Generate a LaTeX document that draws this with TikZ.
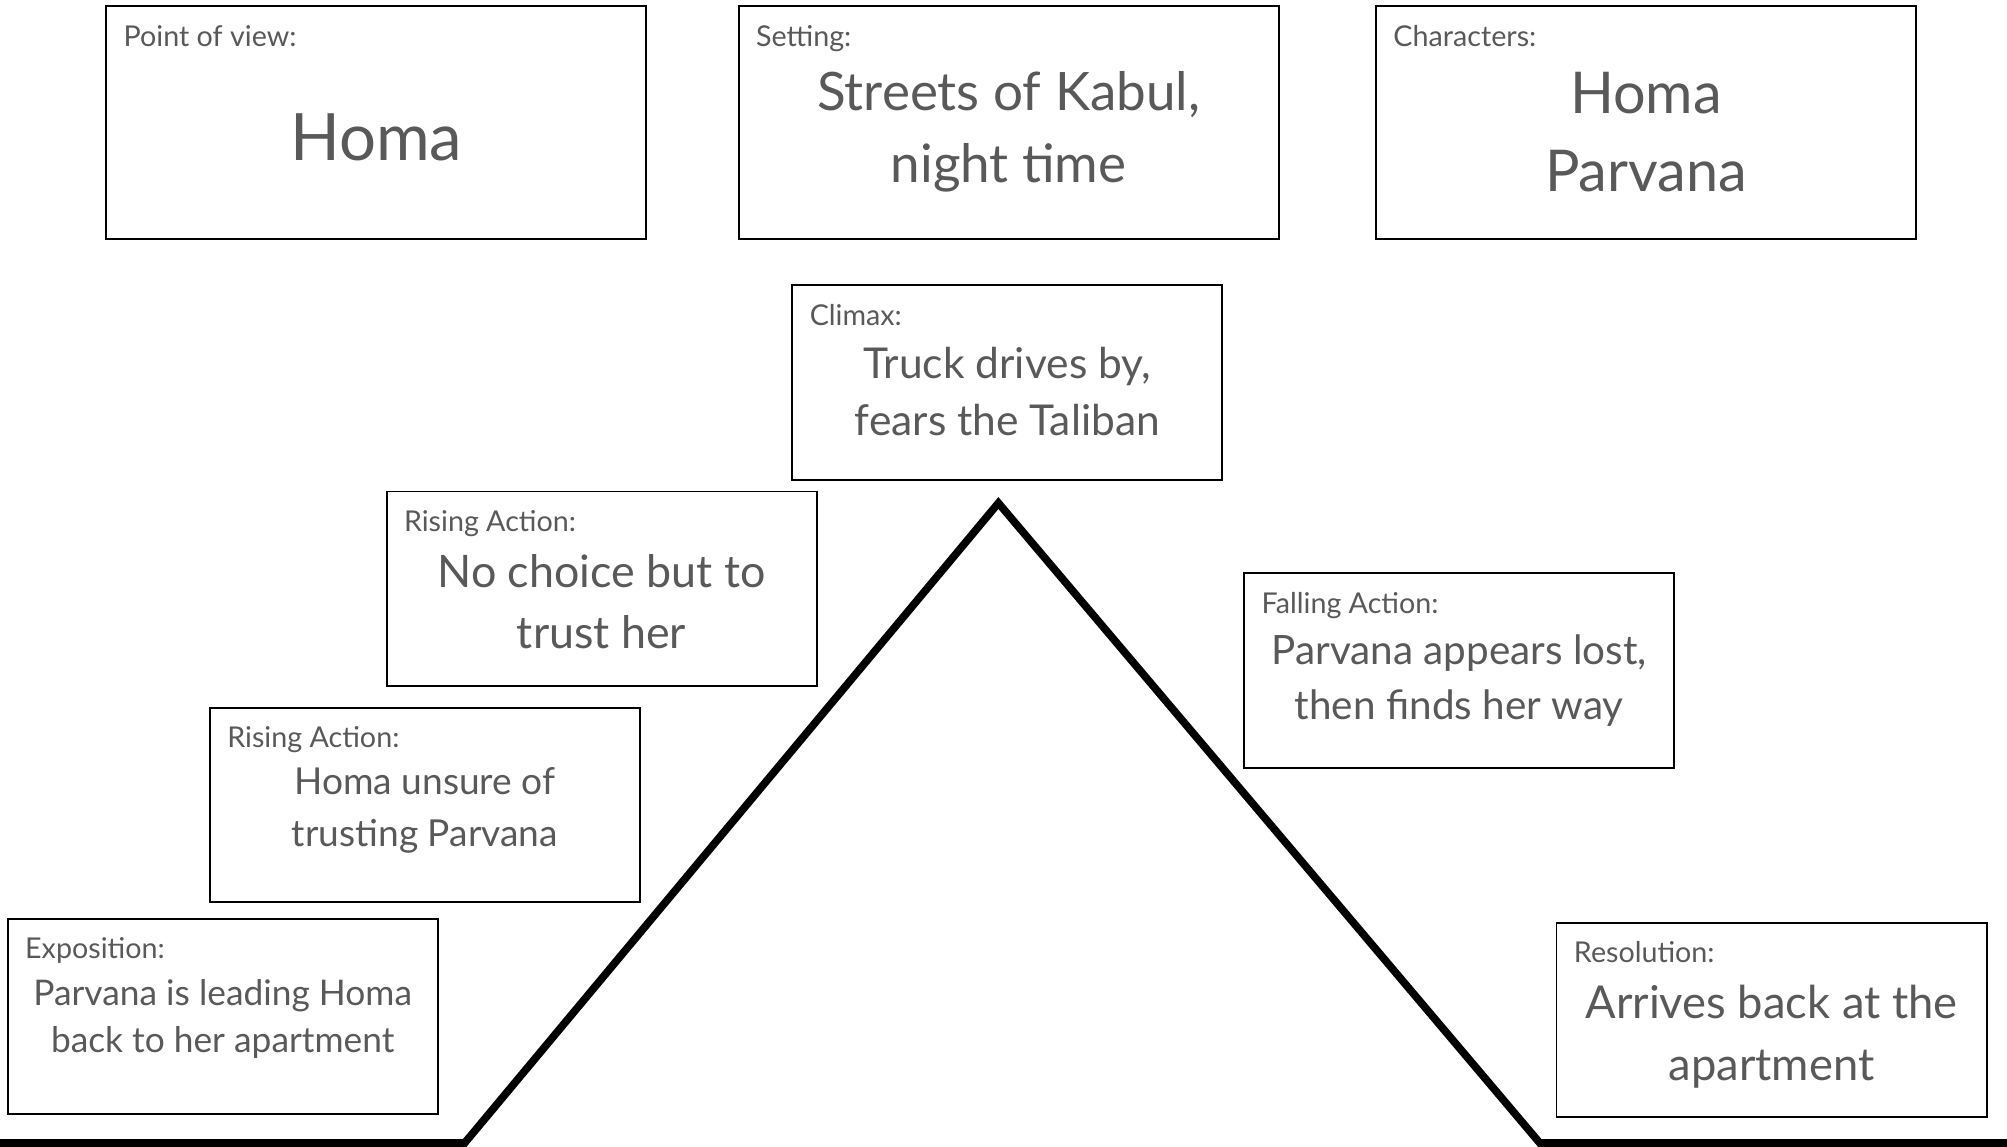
\documentclass[tikz,border=0pt]{standalone}
\usepackage{fontspec}
\setmainfont{Lato}
\definecolor{txtgray}{HTML}{595959}
\newcommand\fsz[2]{\fontsize{#1}{#2}\selectfont}

\begin{document}
\begin{tikzpicture}[
x=0.5pt, y=0.5pt,
box/.style = {draw, line width=0.75pt, minimum width=168pt, minimum height=76pt, inner sep=0pt},
topbox/.style = {box, minimum width=211pt, minimum height=91pt},
lbl/.style = {anchor=north west, inner sep=0pt, xshift=7pt, yshift=-7.5pt, text=txtgray, font=\fsz{11.2}{13}},
tag/.style = {label={[lbl]north west:{#1}}},
txt/.style = {align=center, text=txtgray, inner sep=0pt}
                        ]
\useasboundingbox (0,0) rectangle (1568,896);

% top row
    \node[topbox, tag=Point of view:] (pov) at (294,800) {};
    \node[txt, font=\fsz{25.5}{30}] (povT) at (294,789) {Homa};
    \node[topbox, tag=Setting:] (set) at (788,800) {};
    \node[txt, font=\fsz{20.7}{28.5}] (setT) at (788,793) {Streets of Kabul,\\night time};
    \node[topbox, tag=Characters:] (chr) at (1286,800) {};
    \node[txt, font=\fsz{22.5}{30.5}] (chrT) at (1286,793) {Homa\\Parvana};

% plot mountain
    \draw[line width=3pt] (0,3) -- (363,3) -- (780,503) -- (1203,3) -- (1568,3);

% plot boxes
    \node[box, tag=Climax:] (clx) at (787,597) {};
    \node[txt, font=\fsz{16.6}{22.5}] (clxT) at (787,590) {Truck drives by,\\fears the Taliban};
    \node[box, tag=Rising Action:] (rise2) at (470,436) {};
    \node[txt, font=\fsz{17.5}{24}] (rise2T) at (470,426) {No choice but to\\trust her};
    \node[box, tag=Rising Action:] (rise1) at (332,267) {};
    \node[txt, font=\fsz{14.5}{20.5}] (rise1T) at (332,263) {Homa unsure of\\trusting Parvana};
    \node[box, tag=Exposition:] (expo) at (174,102) {};
    \node[txt, font=\fsz{13.8}{18.5}] (expoT) at (174,100) {Parvana is leading Homa\\back to her apartment};
    \node[box, tag=Falling Action:] (fall) at (1140,372) {};
    \node[txt, font=\fsz{15.8}{21.5}] (fallT) at (1140,364) {Parvana appears lost,\\then finds her way};
    \node[box, tag=Resolution:] (res) at (1384,99) {};
    \node[txt, font=\fsz{17.7}{24.5}] (resT) at (1384,86) {Arrives back at the\\apartment};

\end{tikzpicture}
\end{document}
